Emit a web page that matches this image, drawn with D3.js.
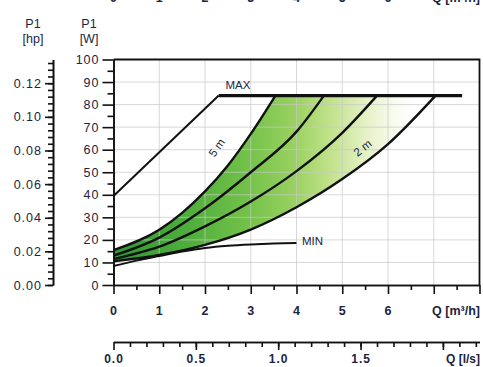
<!DOCTYPE html>
<html lang="en">
<head>
<meta charset="utf-8">
<title>P1 power curves</title>
<style>
 body { margin: 0; background: #fff; }
 svg { display: block; font-family: "Liberation Sans", Arial, sans-serif; }
 .tk text { fill: #1c2440; font-size: 12.5px; letter-spacing: 1px; }
 .tk path, .tk line { stroke: #111; stroke-width: 1.6; }
 .lbl { fill: #1c2440; font-size: 12.5px; }
</style>
<script src="https://d3js.org/d3.v7.min.js"></script>
</head>
<body>
<div id="chart"></div>
<script>
 // tick labels
 const qTicks = [0, 1, 2, 3, 4, 5, 6];
 const lsTicks = [0, 0.5, 1.0, 1.5];
 const wTicks = [0, 10, 20, 30, 40, 50, 60, 70, 80, 90, 100];
 const hpTicks = [0, 0.02, 0.04, 0.06, 0.08, 0.10, 0.12];

 // curves: [Q m3/h, P1 W]
 const curveMax = [[0, 39.5], [2.3, 84], [7.62, 84]];
 const curve5m = [[0, 15.5], [1, 24.5], [1.5, 32], [2, 41.5], [2.5, 53], [3, 67], [3.54, 84]];
 const curve4m = [[0, 13], [1, 21], [2, 34], [3, 50], [4, 68], [4.6, 84]];
 const curve3m = [[0, 11.5], [1, 17], [2, 26], [3, 37], [4, 50.5], [5, 67.5], [5.76, 84]];
 const curve2m = [[0, 10.5], [1, 13.3], [2, 17.8], [3, 24.6], [4, 34.5], [5, 47], [6, 62.5], [7.04, 84]];
 const curveMin = [[0, 8.4], [0.5, 10.8], [1, 12.8], [1.5, 14.8], [2, 16.4], [2.5, 17.4], [3, 18], [3.5, 18.4], [4, 18.6]];

 const W = 483, H = 367;
 const svg = d3.select('#chart').append('svg').attr('width', W).attr('height', H);

 const x = d3.scaleLinear().domain([0, 8]).range([113.5, 479.5]);
 const xLs = d3.scaleLinear().domain([0, 8 / 3.6]).range(x.range());
 const y = d3.scaleLinear().domain([0, 100]).range([285, 59.5]);
 const yHp = d3.scaleLinear().domain([0, 100 / 745.7]).range(y.range());

 // gradient for the working area
 const grad = svg.append('defs').append('linearGradient')
     .attr('id', 'g').attr('gradientUnits', 'userSpaceOnUse')
     .attr('x1', x(0)).attr('x2', x(6.6)).attr('y1', 0).attr('y2', 0);
 [[0, '#2f9634'], [0.25, '#4fae3c'], [0.45, '#74c24a'], [0.6, '#9ad160'],
  [0.72, '#c2e28c'], [0.84, '#e6f2c8'], [0.94, '#fafcf2'], [1, '#ffffff']].forEach(s =>
     grad.append('stop').attr('offset', s[0]).attr('stop-color', s[1]));

 const line = d3.line().x(d => x(d[0])).y(d => y(d[1])).curve(d3.curveMonotoneX);
 const straight = d3.line().x(d => x(d[0])).y(d => y(d[1]));

 // green area between 5 m and 2 m, capped by MAX
 const upper = line(curve5m);
 const lower = line(curve2m.slice().reverse()).replace(/^M/, 'L');
 svg.append('path').attr('d', upper + lower + 'Z').attr('fill', 'url(#g)');

 // grid
 const grid = svg.append('g').attr('stroke', '#c8c8c8').attr('stroke-opacity', 0.7).attr('stroke-width', 1);
 grid.selectAll('.gx').data(d3.range(1, 8)).join('line')
     .attr('x1', d => x(d)).attr('x2', d => x(d)).attr('y1', y(0)).attr('y2', y(100));
 grid.selectAll('.gy').data(wTicks.slice(1, -1)).join('line')
     .attr('y1', d => y(d)).attr('y2', d => y(d)).attr('x1', x(0)).attr('x2', x(8));

 // frame top and right
 svg.append('path')
     .attr('d', 'M' + x(0) + ',' + y(100) + 'H' + x(8) + 'V' + y(0))
     .attr('fill', 'none').attr('stroke', '#111').attr('stroke-width', 1.8);

 // curves
 const curves = svg.append('g').attr('fill', 'none').attr('stroke', '#111').attr('stroke-linejoin', 'round');
 [curve5m, curve4m, curve3m, curve2m].forEach(c =>
     curves.append('path').attr('d', line(c)).attr('stroke-width', 2.4));
 curves.append('path').attr('d', straight(curveMax.slice(0, 2))).attr('stroke-width', 2);
 curves.append('path').attr('d', straight(curveMax.slice(1))).attr('stroke-width', 3.4);
 curves.append('path').attr('d', line(curveMin)).attr('stroke-width', 2);

 // W axis
 svg.append('g').attr('class', 'tk').attr('transform', 'translate(' + x(0) + ',0)')
     .call(d3.axisLeft(y).tickValues(d3.range(5, 100, 10)).tickSize(6).tickSizeOuter(0).tickFormat(''));
 svg.append('g').attr('class', 'tk').attr('transform', 'translate(' + x(0) + ',0)')
     .call(d3.axisLeft(y).tickValues(wTicks).tickSize(11).tickPadding(3).tickSizeOuter(0));

 // hp axis
 svg.append('g').attr('class', 'tk').attr('transform', 'translate(53,0)')
     .call(d3.axisLeft(yHp).tickValues(d3.range(0, 0.1341, 0.004)).tickSize(5).tickSizeOuter(0).tickFormat(''));
 svg.append('g').attr('class', 'tk').attr('transform', 'translate(53,0)')
     .call(d3.axisLeft(yHp).tickValues(hpTicks).tickSize(8).tickPadding(3).tickSizeOuter(0).tickFormat(d3.format('.2f')));

 // Q m3/h axis
 svg.append('g').attr('class', 'tk').attr('transform', 'translate(0,' + y(0) + ')')
     .call(d3.axisBottom(x).tickValues(d3.range(0.5, 8, 1)).tickSize(5).tickSizeOuter(0).tickFormat(''));
 const qAx = svg.append('g').attr('class', 'tk').attr('transform', 'translate(0,' + y(0) + ')')
     .call(d3.axisBottom(x).tickValues(d3.range(0, 9)).tickSize(9).tickPadding(12).tickSizeOuter(0)
           .tickFormat(d => qTicks.includes(d) ? d : ''));
 qAx.selectAll('text').style('font-weight', 'bold');
 svg.append('text').attr('class', 'lbl').attr('x', 480).attr('y', 315).attr('text-anchor', 'end')
     .style('font-weight', 'bold').text('Q [m³/h]');

 // Q l/s axis
 const lsY = 342;
 svg.append('g').attr('class', 'tk').attr('transform', 'translate(0,' + lsY + ')')
     .call(d3.axisBottom(xLs).tickValues(d3.range(0.1, 2.21, 0.1)).tickSize(5).tickSizeOuter(0).tickFormat(''));
 const lAx = svg.append('g').attr('class', 'tk').attr('transform', 'translate(0,' + lsY + ')')
     .call(d3.axisBottom(xLs).tickValues([0, 0.5, 1, 1.5, 2]).tickSize(8).tickPadding(4).tickSizeOuter(0)
           .tickFormat(d => lsTicks.includes(d) ? d3.format('.1f')(d) : ''));
 lAx.selectAll('text').style('font-weight', 'bold').style('font-size', '12px');
 svg.append('text').attr('class', 'lbl').attr('x', 480).attr('y', 363).attr('text-anchor', 'end')
     .style('font-weight', 'bold').style('font-size', '12px').text('Q [l/s]');

 // axis titles
 svg.append('text').attr('class', 'lbl').attr('x', 33).attr('y', 28).attr('text-anchor', 'middle').text('P1');
 svg.append('text').attr('class', 'lbl').attr('x', 33).attr('y', 43).attr('text-anchor', 'middle').text('[hp]');
 svg.append('text').attr('class', 'lbl').attr('x', 89).attr('y', 28).attr('text-anchor', 'middle').text('P1');
 svg.append('text').attr('class', 'lbl').attr('x', 89).attr('y', 43).attr('text-anchor', 'middle').text('[W]');

 // cropped labels of the chart above (only their lower edge shows)
 svg.selectAll('.cut').data(qTicks).join('text').attr('class', 'lbl')
     .attr('x', d => x(d)).attr('y', 1.5).attr('text-anchor', 'middle').style('font-weight', 'bold').text(d => d);
 svg.append('text').attr('class', 'lbl').attr('x', 480).attr('y', 1.5).attr('text-anchor', 'end')
     .style('font-weight', 'bold').text('Q [m³/h]');

 // curve labels
 svg.append('text').attr('class', 'lbl').attr('x', 238).attr('y', 89).attr('text-anchor', 'middle')
     .style('font-size', '11.5px').text('MAX');
 svg.append('text').attr('class', 'lbl').attr('x', 302).attr('y', 245)
     .style('font-size', '11.5px').text('MIN');
 svg.append('text').attr('class', 'lbl').attr('text-anchor', 'middle')
     .attr('transform', 'translate(220,150)rotate(-55)').style('font-size', '11.5px').text('5 m');
 svg.append('text').attr('class', 'lbl').attr('text-anchor', 'middle')
     .attr('transform', 'translate(365,151)rotate(-38)').style('font-size', '11.5px').text('2 m');
</script>
</body>
</html>
